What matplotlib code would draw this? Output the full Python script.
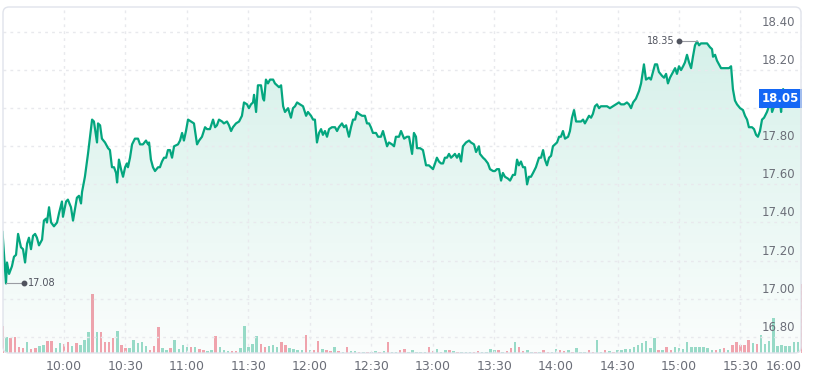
import numpy as np
import matplotlib
matplotlib.use("Agg")
import matplotlib.pyplot as plt
import matplotlib.patches as mpatches
import matplotlib.transforms as mtrans

# ---------------------------------------------------------------
# DATA  (minutes after 9:30, price)
# ---------------------------------------------------------------
minutes = [0, 1.7, 2.2, 3.2, 4.6, 5.6, 6.6, 7.6, 9.0, 10.0, 11.0, 12.0, 12.9, 13.9, 14.9, 15.9,
           16.8, 17.8, 19.3, 20.2, 21.2, 21.7, 22.7, 23.7, 25.1, 26.6, 27.6, 29.0, 29.5, 31.0,
           31.9, 33.4, 34.4, 36.3, 37.3, 38.3, 38.8, 40.2, 41.7, 43.7, 44.6, 46.1, 46.6,
           47.6, 48.5, 50.0, 51.5, 52.4, 53.4, 54.4, 55.4, 55.9, 56.8, 57.8, 58.8, 59.8, 60.7,
           61.2, 62.2, 63.2, 64.6, 66.1, 67.1, 68.5, 70.0, 71.0, 71.5, 72.4, 73.4, 74.4, 75.9,
           76.8, 77.8, 78.8, 79.8, 80.7, 81.7, 82.7, 83.7, 85.6, 86.6, 87.6, 88.5, 89.5, 90.5,
           92.0, 93.4, 94.9, 95.9,
           97.3, 98.8, 99.8, 101.2, 102.7, 103.7, 104.6, 105.6, 107.1, 108.0, 109.5, 110.5,
           111.5, 112.4, 113.9, 115.4, 116.8, 117.8, 119.3, 120.2, 121.2, 122.2, 122.7, 123.7,
           124.6, 126.1, 127.1, 127.6, 128.5, 129.5, 130.5, 132.0, 132.9, 133.9, 134.9, 135.9,
           136.9, 137.8, 139.3, 140.7, 141.7, 142.7, 143.7, 145.1, 146.6,
           148.1, 149.0, 150.5, 151.5, 152.4, 153.4, 154.4, 155.4, 156.3, 157.3, 158.3, 159.3,
           160.7, 162.2, 163.2, 164.1, 165.6, 166.6, 167.6, 169.0, 170.0, 171.0, 172.0, 172.9,
           173.9, 175.4, 176.8, 177.8, 178.8, 179.7, 180.7, 182.2, 183.2, 184.6, 185.6, 186.6,
           187.6, 188.5, 190.0, 191.0, 191.9, 193.4, 194.4,
           195.9, 197.3, 198.3, 199.8, 200.7, 201.7, 202.2, 203.7, 205.1, 206.6, 208.0, 209.0,
           210.0, 211.0, 211.9, 212.9, 213.9, 214.9, 215.8, 216.8, 217.8, 218.8, 219.8, 220.7,
           221.7, 222.7, 223.7, 224.6, 226.1, 227.6, 228.5, 230.0, 231.0, 232.4, 232.9, 234.4,
           235.4, 236.8, 237.8, 239.3, 240.2, 241.2, 242.2, 243.2, 244.1,
           245.1, 246.6, 247.6, 249.0, 250.0, 251.0, 251.9, 252.9, 253.9, 254.9, 255.9, 256.8,
           257.8, 258.8, 260.2, 261.7, 262.7, 263.7, 264.6, 265.6, 266.6, 267.6, 268.5, 269.5,
           270.5, 271.5, 272.4, 273.4, 274.4, 275.9, 276.8, 277.8, 278.8, 279.8, 281.2, 282.2,
           283.2, 284.1, 285.1, 286.1, 287.1, 288.0, 289.0, 290.0, 291.0, 291.9,
           293.4, 294.9, 296.3, 297.8, 299.3, 300.7, 301.7, 303.2, 304.6, 305.6, 306.6, 307.6,
           309.0, 310.5, 311.5, 312.9, 313.9, 315.4, 316.3, 317.3, 318.3, 319.3, 320.2, 321.7,
           322.7, 323.7, 324.6, 325.6, 327.1, 328.1, 329.0, 330.0, 331.0, 332.0, 332.9, 333.9,
           334.9, 335.9, 336.8, 337.8, 338.8, 339.8, 340.7, 342.2,
           343.7, 345.1, 346.1, 346.6, 347.6, 348.5, 349.5, 350.5, 352.0, 353.4, 354.4, 355.4,
           356.3, 357.3, 358.3, 359.8, 361.2, 362.2, 363.2, 364.1, 365.6, 366.6, 367.6, 368.5,
           369.5, 370.5, 371.5, 372.9, 373.9, 374.9, 375.4, 376.4, 377.3, 378.3, 379.3, 379.8,
           380.8, 381.7, 384.2, 386.6, 390]
prices = [17.35, 17.08, 17.19, 17.13, 17.17, 17.22, 17.23, 17.34, 17.27, 17.26, 17.19, 17.29, 17.32,
          17.26, 17.33, 17.34, 17.32, 17.28, 17.31, 17.41, 17.42, 17.40, 17.48, 17.40, 17.38, 17.40,
          17.45, 17.51, 17.43, 17.51, 17.52, 17.48, 17.41, 17.53, 17.54, 17.50, 17.56, 17.64, 17.76,
          17.94, 17.93, 17.82, 17.92,
          17.91, 17.84, 17.82, 17.79, 17.78, 17.69, 17.69, 17.66, 17.61, 17.73, 17.68, 17.64, 17.69,
          17.71, 17.69, 17.74, 17.81, 17.84, 17.84, 17.81, 17.81, 17.83, 17.81, 17.82, 17.73, 17.69,
          17.67, 17.69, 17.69, 17.72, 17.74, 17.74, 17.78, 17.78, 17.74, 17.80, 17.81, 17.83, 17.87,
          17.83, 17.88, 17.94, 17.93, 17.92, 17.81, 17.83,
          17.85, 17.90, 17.89, 17.89, 17.94, 17.90, 17.91, 17.94, 17.93, 17.92, 17.93, 17.91, 17.88,
          17.90, 17.92, 17.93, 17.96, 18.03, 18.02, 18.00, 18.02, 18.03, 18.07, 17.98, 18.12, 18.12,
          18.05, 18.04, 18.15, 18.13, 18.15, 18.15, 18.13, 18.12, 18.11, 18.12, 18.01, 17.98, 18.00,
          17.95, 18.00, 18.01, 18.03, 18.02, 18.01,
          17.96, 17.98, 17.96, 17.94, 17.94, 17.82, 17.87, 17.89, 17.86, 17.88, 17.85, 17.89, 17.90,
          17.90, 17.88, 17.90, 17.92, 17.90, 17.91, 17.85, 17.90, 17.94, 17.94, 17.98, 17.97, 17.96,
          17.96, 17.92, 17.92, 17.90, 17.87, 17.87, 17.85, 17.85, 17.88, 17.84, 17.80, 17.82, 17.81,
          17.80, 17.85, 17.85, 17.88,
          17.84, 17.85, 17.85, 17.76, 17.87, 17.85, 17.79, 17.79, 17.78, 17.70, 17.70, 17.69, 17.68,
          17.71, 17.74, 17.72, 17.71, 17.71, 17.74, 17.74, 17.76, 17.74, 17.75, 17.76, 17.74, 17.76,
          17.72, 17.80, 17.82, 17.83, 17.82, 17.81, 17.77, 17.80, 17.76, 17.74, 17.73, 17.71, 17.68,
          17.67, 17.67, 17.68, 17.68, 17.62, 17.66,
          17.64, 17.63, 17.62, 17.65, 17.65, 17.73, 17.70, 17.72, 17.69, 17.69, 17.60, 17.64, 17.64,
          17.66, 17.69, 17.74, 17.74, 17.78, 17.73, 17.70, 17.74, 17.75, 17.80, 17.81, 17.82, 17.85,
          17.85, 17.88, 17.84, 17.85, 17.88, 17.95, 17.99, 17.93, 17.93, 17.93, 17.94, 17.92, 17.94,
          17.96, 17.95, 17.97, 18.01, 18.02, 18.00, 18.01,
          18.01, 18.01, 18.00, 18.01, 18.02, 18.03, 18.02, 18.02, 18.03, 18.02, 18.00, 18.03, 18.05,
          18.09, 18.13, 18.23, 18.15, 18.16, 18.15, 18.19, 18.23, 18.23, 18.19, 18.17, 18.16, 18.18,
          18.13, 18.16, 18.19, 18.21, 18.18, 18.22, 18.20, 18.22, 18.24, 18.28, 18.24, 18.21, 18.27,
          18.33, 18.35, 18.33, 18.34, 18.34,
          18.34, 18.32, 18.31, 18.27, 18.28, 18.25, 18.23, 18.21, 18.21, 18.21, 18.21, 18.22, 18.10,
          18.04, 18.02, 18.00, 17.99, 17.96, 17.94, 17.90, 17.90, 17.89, 17.86, 17.85, 17.88, 17.94,
          17.95, 17.98, 18.01, 18.03, 17.98, 18.01, 18.03, 18.02, 18.03, 17.98, 18.10, 18.04, 18.06,
          18.04, 18.05]

# volume, one bar per 2 minutes (thousand shares), u = up bar, d = down bar
volume = [27, 16, 15, 16, 6, 5, 11, 4, 5, 7,
          8, 12, 12, 5, 10, 9, 11, 7, 10, 8,
          13, 21, 59, 21, 21, 11, 11, 15, 22, 8,
          5, 5, 13, 10, 11, 7, 3, 7, 26, 5,
          3, 5, 13, 4, 8, 6, 6, 6, 4, 3,
          2, 3, 17, 6, 3, 2, 2, 2, 5, 27,
          6, 9, 17, 9, 6, 7, 8, 6, 11, 8,
          5, 4, 3, 3, 18, 3, 3, 12, 4, 3,
          2, 6, 2, 1.5, 6, 2, 2, 1.5, 1.5, 1.5,
          1.5, 2, 1.5, 2, 11, 1.5, 1.5, 3, 4, 1.5,
          3, 1.5, 1.5, 1.5, 6, 2, 4, 1.5, 3, 3,
          2, 1.5, 1.5, 1.5, 1.5, 1.5, 2, 1.5, 1.5, 4,
          3, 3, 1.5, 2, 5, 11, 6, 2, 3, 1.5,
          1.5, 1.5, 3, 1.5, 1.5, 4, 3, 2, 3, 1.5,
          5, 1.5, 1.5, 3, 1.5, 13, 1.5, 3, 2, 1.5,
          3, 3, 4, 4, 6, 8, 10, 12, 5, 15,
          3, 3, 6, 3, 6, 5, 4, 11, 6, 6,
          6, 6, 5, 3, 3, 4, 5, 3, 8, 11,
          8, 8, 13, 10, 9, 18, 9, 12, 35, 7,
          8, 7, 7, 11, 11, 69]
vol_dir = ("dudddduddu" "udduuddudu" "uududdddud" "duuuuudddu" "uduuuududd"
           "uuduuudduu" "uuudduuudd" "uuuududdud" "dududuudud" "uududuuddu"
           "uuuudduuud" "uduuudduuu" "ududdudduu" "dudduuddud" "uuudduudud"
           "uuuuuuuuuu" "dudduuuuuu" "uuuudududd" "ddduduuuuu" "uuuuud")

xticks = [30, 60, 90, 120, 150, 180, 210, 240, 270, 300, 330, 360, 390]
xlabels = ['10:00', '10:30', '11:00', '11:30', '12:00', '12:30', '13:00',
           '13:30', '14:00', '14:30', '15:00', '15:30', '16:00']
yticks = [16.8, 17.0, 17.2, 17.4, 17.6, 17.8, 18.0, 18.2, 18.4]
last_price = 18.05

# ---------------------------------------------------------------
# STYLE
# ---------------------------------------------------------------
LINE = '#04a67f'
UPC = '#9bdcc9'
DNC = '#f5a3ae'
GRID = '#e8e9ed'
TXT = '#6b6e78'
plt.rcParams['font.family'] = ['DejaVu Sans']

W, H = 815, 376
fig = plt.figure(figsize=(W / 100, H / 100), dpi=100)
rect = [2.5 / W, 23 / H, 799.5 / W, 346 / H]

ymin, ymax = 16.715, 18.531

# volume axes (behind)
axv = fig.add_axes(rect)
vt = np.arange(len(volume)) * 2
vcol = [UPC if c == 'u' else DNC for c in vol_dir]
axv.bar(vt, volume, width=1.25, color=vcol, linewidth=0)
axv.set_xlim(0, 390)
axv.set_ylim(0, 346)
axv.axis('off')

# price axes
ax = fig.add_axes(rect)
ax.patch.set_visible(False)
ax.set_xlim(0, 390)
ax.set_ylim(ymin, ymax)

# gradient fill under the line
rgb = matplotlib.colors.to_rgb(LINE)
grad = np.zeros((256, 1, 4))
grad[:, 0, :3] = rgb
grad[:, 0, 3] = np.linspace(0.18, 0.02, 256)
im = ax.imshow(grad, extent=[0, 390, ymin, ymax], aspect='auto', origin='upper', zorder=1)
verts = [(minutes[0], ymin)] + list(zip(minutes, prices)) + [(minutes[-1], ymin)]
poly = mpatches.Polygon(verts, closed=True, fc='none', ec='none', transform=ax.transData)
ax.add_patch(poly)
im.set_clip_path(poly)

ax.plot(minutes, prices, color=LINE, lw=1.6, zorder=3, solid_joinstyle='round')

# grid
ax.set_xticks(xticks)
ax.set_xticklabels(xlabels)
ax.set_yticks(yticks)
ax.set_yticklabels([])
ax.grid(True, color=GRID, lw=1, linestyle=(0, (2, 3)), zorder=0)
ax.tick_params(length=0, pad=5, labelsize=9, labelcolor=TXT)
ax.get_xticklabels()[-1].set_ha('right')
for s in ax.spines.values():
    s.set_visible(False)

# price labels on the right (the one under the last-price tag is hidden)
for v in yticks:
    if abs(v - last_price) < 0.1:
        continue
    ax.annotate('%.2f' % v, xy=(1, v), xycoords=('axes fraction', 'data'),
                xytext=(-7, 3), textcoords='offset pixels', ha='right', va='bottom',
                fontsize=8.5, color=TXT, zorder=4)

# low / high markers
i_lo = int(np.argmin(prices))
i_hi = int(np.argmax(prices))
lo_t, lo_p = minutes[i_lo], prices[i_lo]
hi_t, hi_p = minutes[i_hi], prices[i_hi]
ax.plot([lo_t, lo_t + 8.8], [lo_p, lo_p], color='#9a9ca3', lw=0.8, zorder=4)
ax.plot(lo_t + 8.8, lo_p, 'o', color='#50535e', ms=3.2, zorder=5)
ax.annotate('%.2f' % lo_p, xy=(lo_t + 8.8, lo_p), xytext=(4, 0), textcoords='offset pixels',
            ha='left', va='center', fontsize=7, color='#50535e', zorder=5)
ax.plot([hi_t - 8.8, hi_t], [hi_p, hi_p], color='#9a9ca3', lw=0.8, zorder=4)
ax.plot(hi_t - 8.8, hi_p, 'o', color='#50535e', ms=3.2, zorder=5)
ax.annotate('%.2f' % hi_p, xy=(hi_t - 8.8, hi_p), xytext=(-4, 0), textcoords='offset pixels',
            ha='right', va='center', fontsize=7, color='#50535e', zorder=5)

# last price tag
ax.annotate('%.2f' % last_price, xy=(1, last_price), xycoords=('axes fraction', 'data'),
            xytext=(-3, 0), textcoords='offset pixels', ha='right', va='center',
            fontsize=8.5, fontweight='bold', color='white', zorder=6,
            bbox=dict(boxstyle='square,pad=0.25', fc='#1467f5', ec='none'))

# frame
frame = mpatches.FancyBboxPatch((3, 23), 798, 346, boxstyle='round,pad=0,rounding_size=6',
                                transform=mtrans.IdentityTransform(), fc='none',
                                ec='#e0e3eb', lw=1)
fig.add_artist(frame)

fig.savefig('out.png', dpi=100)
